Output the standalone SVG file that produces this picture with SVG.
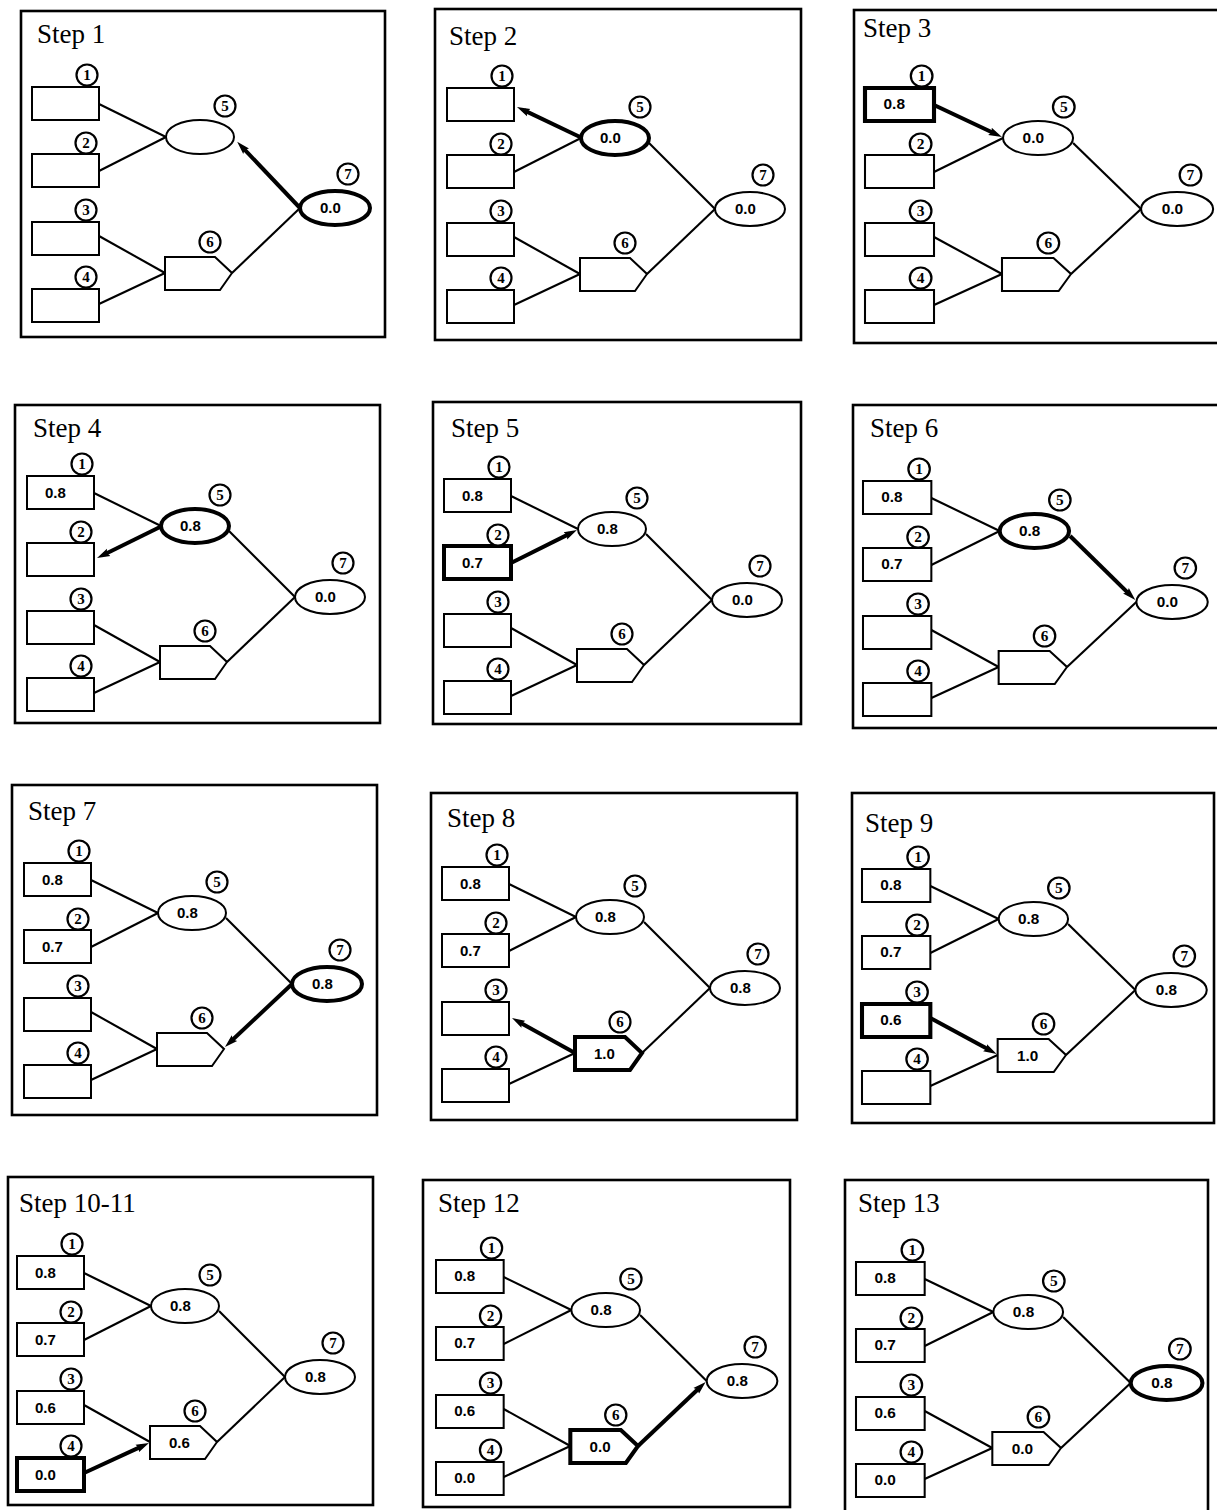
<svg xmlns="http://www.w3.org/2000/svg" width="1217" height="1510" viewBox="0 0 1217 1510">
<style>
.fr{fill:none;stroke:#000;stroke-width:2.6}
.ttl{font-family:"Liberation Serif",serif;font-size:27px}
.nd{fill:#fff;stroke:#000;stroke-width:2}
.hl{stroke-width:4}
.cl{fill:#fff;stroke:#000;stroke-width:2.2}
.cn{font-family:"Liberation Serif",serif;font-size:15px;font-weight:bold;text-anchor:middle}
.v{font-family:"Liberation Sans",sans-serif;font-size:15px;font-weight:bold}
.ed{stroke:#000;stroke-width:2.1;fill:none}
.ar{stroke:#000;stroke-width:4;fill:none;marker-end:url(#ah)}
</style>
<defs>
<marker id="ah" markerUnits="userSpaceOnUse" markerWidth="14" markerHeight="10" viewBox="0 0 14 10" refX="5" refY="5" orient="auto">
<path d="M0,1 L13,5 L0,9 L2,5 z" fill="#000"/>
</marker>
</defs>
<rect width="1217" height="1510" fill="#fff"/>

<g id="frames">
<rect class="fr" x="21" y="11" width="364" height="326"/>
<rect class="fr" x="435" y="9" width="366" height="331"/>
<rect class="fr" x="854" y="10" width="380" height="333"/>
<rect class="fr" x="15" y="405" width="365" height="318"/>
<rect class="fr" x="433" y="402" width="368" height="322"/>
<rect class="fr" x="853" y="405" width="380" height="323"/>
<rect class="fr" x="12" y="785" width="365" height="330"/>
<rect class="fr" x="431" y="793" width="366" height="327"/>
<rect class="fr" x="852" y="793" width="362" height="330"/>
<rect class="fr" x="8" y="1177" width="365" height="328"/>
<rect class="fr" x="423" y="1180" width="367" height="327"/>
<rect class="fr" x="845" y="1180" width="363" height="340"/>
</g>
<g id="titles">
<text class="ttl" x="37" y="43">Step 1</text>
<text class="ttl" x="449" y="45">Step 2</text>
<text class="ttl" x="863" y="37">Step 3</text>
<text class="ttl" x="33" y="437">Step 4</text>
<text class="ttl" x="451" y="437">Step 5</text>
<text class="ttl" x="870" y="437">Step 6</text>
<text class="ttl" x="28" y="820">Step 7</text>
<text class="ttl" x="447" y="827">Step 8</text>
<text class="ttl" x="865" y="832">Step 9</text>
<text class="ttl" x="19" y="1212">Step 10-11</text>
<text class="ttl" x="438" y="1212">Step 12</text>
<text class="ttl" x="858" y="1212">Step 13</text>
</g>

<g id="step1" transform="translate(32,87)">
<g id="s1-connectors">
<line class="ed" x1="67" y1="17" x2="134" y2="50"/>
<line class="ed" x1="67" y1="84" x2="134" y2="50"/>
<line class="ed" x1="67" y1="149" x2="133" y2="186"/>
<line class="ed" x1="67" y1="217" x2="133" y2="186"/>
<line class="ed" x1="200" y1="186" x2="268" y2="121"/>
<line class="ar" x1="268" y1="121" x2="210.7" y2="60.6"/>
</g>
<g id="s1-n1"><rect class="nd" x="0" y="0" width="67" height="33"/><circle class="cl" cx="55" cy="-12" r="10.5"/><text class="cn" x="55" y="-7">1</text></g>
<g id="s1-n2"><rect class="nd" x="0" y="67" width="67" height="33"/><circle class="cl" cx="54" cy="56" r="10.5"/><text class="cn" x="54" y="61">2</text></g>
<g id="s1-n3"><rect class="nd" x="0" y="135" width="67" height="33"/><circle class="cl" cx="54" cy="123" r="10.5"/><text class="cn" x="54" y="128">3</text></g>
<g id="s1-n4"><rect class="nd" x="0" y="202" width="67" height="33"/><circle class="cl" cx="54" cy="190" r="10.5"/><text class="cn" x="54" y="195">4</text></g>
<g id="s1-n5"><ellipse class="nd" cx="168" cy="50" rx="34" ry="17"/><circle class="cl" cx="193" cy="19" r="10.5"/><text class="cn" x="193" y="24">5</text></g>
<g id="s1-n6"><polygon class="nd" points="133,170 183,170 200,186 188,203 133,203"/><circle class="cl" cx="178" cy="155" r="10.5"/><text class="cn" x="178" y="160">6</text></g>
<g id="s1-n7"><ellipse class="nd hl" cx="303" cy="121" rx="35" ry="17"/><circle class="cl" cx="316" cy="87" r="10.5"/><text class="cn" x="316" y="92">7</text><text class="v" x="288" y="126">0.0</text></g>
</g>

<g id="step2" transform="translate(447,88)">
<g id="s2-connectors">
<line class="ed" x1="67" y1="84" x2="134" y2="50"/>
<line class="ed" x1="67" y1="149" x2="133" y2="186"/>
<line class="ed" x1="67" y1="217" x2="133" y2="186"/>
<line class="ed" x1="202" y1="55" x2="268" y2="121"/>
<line class="ed" x1="200" y1="186" x2="268" y2="121"/>
<line class="ar" x1="133" y1="49" x2="77.2" y2="22.4"/>
</g>
<g id="s2-n1"><rect class="nd" x="0" y="0" width="67" height="33"/><circle class="cl" cx="55" cy="-12" r="10.5"/><text class="cn" x="55" y="-7">1</text></g>
<g id="s2-n2"><rect class="nd" x="0" y="67" width="67" height="33"/><circle class="cl" cx="54" cy="56" r="10.5"/><text class="cn" x="54" y="61">2</text></g>
<g id="s2-n3"><rect class="nd" x="0" y="135" width="67" height="33"/><circle class="cl" cx="54" cy="123" r="10.5"/><text class="cn" x="54" y="128">3</text></g>
<g id="s2-n4"><rect class="nd" x="0" y="202" width="67" height="33"/><circle class="cl" cx="54" cy="190" r="10.5"/><text class="cn" x="54" y="195">4</text></g>
<g id="s2-n5"><ellipse class="nd hl" cx="168" cy="50" rx="34" ry="17"/><circle class="cl" cx="193" cy="19" r="10.5"/><text class="cn" x="193" y="24">5</text><text class="v" x="153" y="55">0.0</text></g>
<g id="s2-n6"><polygon class="nd" points="133,170 183,170 200,186 188,203 133,203"/><circle class="cl" cx="178" cy="155" r="10.5"/><text class="cn" x="178" y="160">6</text></g>
<g id="s2-n7"><ellipse class="nd" cx="303" cy="121" rx="35" ry="17"/><circle class="cl" cx="316" cy="87" r="10.5"/><text class="cn" x="316" y="92">7</text><text class="v" x="288" y="126">0.0</text></g>
</g>

<g id="step3" transform="translate(865,88) scale(1.03,1)">
<g id="s3-connectors">
<line class="ed" x1="67" y1="84" x2="134" y2="50"/>
<line class="ed" x1="67" y1="149" x2="133" y2="186"/>
<line class="ed" x1="67" y1="217" x2="133" y2="186"/>
<line class="ed" x1="202" y1="55" x2="268" y2="121"/>
<line class="ed" x1="200" y1="186" x2="268" y2="121"/>
<line class="ar" x1="67" y1="17" x2="125.8" y2="45.5"/>
</g>
<g id="s3-n1"><rect class="nd hl" x="0" y="0" width="67" height="33"/><circle class="cl" cx="55" cy="-12" r="10.5"/><text class="cn" x="55" y="-7">1</text><text class="v" x="18" y="21.5">0.8</text></g>
<g id="s3-n2"><rect class="nd" x="0" y="67" width="67" height="33"/><circle class="cl" cx="54" cy="56" r="10.5"/><text class="cn" x="54" y="61">2</text></g>
<g id="s3-n3"><rect class="nd" x="0" y="135" width="67" height="33"/><circle class="cl" cx="54" cy="123" r="10.5"/><text class="cn" x="54" y="128">3</text></g>
<g id="s3-n4"><rect class="nd" x="0" y="202" width="67" height="33"/><circle class="cl" cx="54" cy="190" r="10.5"/><text class="cn" x="54" y="195">4</text></g>
<g id="s3-n5"><ellipse class="nd" cx="168" cy="50" rx="34" ry="17"/><circle class="cl" cx="193" cy="19" r="10.5"/><text class="cn" x="193" y="24">5</text><text class="v" x="153" y="55">0.0</text></g>
<g id="s3-n6"><polygon class="nd" points="133,170 183,170 200,186 188,203 133,203"/><circle class="cl" cx="178" cy="155" r="10.5"/><text class="cn" x="178" y="160">6</text></g>
<g id="s3-n7"><ellipse class="nd" cx="303" cy="121" rx="35" ry="17"/><circle class="cl" cx="316" cy="87" r="10.5"/><text class="cn" x="316" y="92">7</text><text class="v" x="288" y="126">0.0</text></g>
</g>

<g id="step4" transform="translate(27,476)">
<g id="s4-connectors">
<line class="ed" x1="67" y1="17" x2="134" y2="50"/>
<line class="ed" x1="67" y1="149" x2="133" y2="186"/>
<line class="ed" x1="67" y1="217" x2="133" y2="186"/>
<line class="ed" x1="202" y1="55" x2="268" y2="121"/>
<line class="ed" x1="200" y1="186" x2="268" y2="121"/>
<line class="ar" x1="133" y1="51" x2="77.2" y2="78.5"/>
</g>
<g id="s4-n1"><rect class="nd" x="0" y="0" width="67" height="33"/><circle class="cl" cx="55" cy="-12" r="10.5"/><text class="cn" x="55" y="-7">1</text><text class="v" x="18" y="21.5">0.8</text></g>
<g id="s4-n2"><rect class="nd" x="0" y="67" width="67" height="33"/><circle class="cl" cx="54" cy="56" r="10.5"/><text class="cn" x="54" y="61">2</text></g>
<g id="s4-n3"><rect class="nd" x="0" y="135" width="67" height="33"/><circle class="cl" cx="54" cy="123" r="10.5"/><text class="cn" x="54" y="128">3</text></g>
<g id="s4-n4"><rect class="nd" x="0" y="202" width="67" height="33"/><circle class="cl" cx="54" cy="190" r="10.5"/><text class="cn" x="54" y="195">4</text></g>
<g id="s4-n5"><ellipse class="nd hl" cx="168" cy="50" rx="34" ry="17"/><circle class="cl" cx="193" cy="19" r="10.5"/><text class="cn" x="193" y="24">5</text><text class="v" x="153" y="55">0.8</text></g>
<g id="s4-n6"><polygon class="nd" points="133,170 183,170 200,186 188,203 133,203"/><circle class="cl" cx="178" cy="155" r="10.5"/><text class="cn" x="178" y="160">6</text></g>
<g id="s4-n7"><ellipse class="nd" cx="303" cy="121" rx="35" ry="17"/><circle class="cl" cx="316" cy="87" r="10.5"/><text class="cn" x="316" y="92">7</text><text class="v" x="288" y="126">0.0</text></g>
</g>

<g id="step5" transform="translate(444,479)">
<g id="s5-connectors">
<line class="ed" x1="67" y1="17" x2="134" y2="50"/>
<line class="ed" x1="67" y1="149" x2="133" y2="186"/>
<line class="ed" x1="67" y1="217" x2="133" y2="186"/>
<line class="ed" x1="202" y1="55" x2="268" y2="121"/>
<line class="ed" x1="200" y1="186" x2="268" y2="121"/>
<line class="ar" x1="67" y1="84" x2="125.8" y2="54.6"/>
</g>
<g id="s5-n1"><rect class="nd" x="0" y="0" width="67" height="33"/><circle class="cl" cx="55" cy="-12" r="10.5"/><text class="cn" x="55" y="-7">1</text><text class="v" x="18" y="21.5">0.8</text></g>
<g id="s5-n2"><rect class="nd hl" x="0" y="67" width="67" height="33"/><circle class="cl" cx="54" cy="56" r="10.5"/><text class="cn" x="54" y="61">2</text><text class="v" x="18" y="88.5">0.7</text></g>
<g id="s5-n3"><rect class="nd" x="0" y="135" width="67" height="33"/><circle class="cl" cx="54" cy="123" r="10.5"/><text class="cn" x="54" y="128">3</text></g>
<g id="s5-n4"><rect class="nd" x="0" y="202" width="67" height="33"/><circle class="cl" cx="54" cy="190" r="10.5"/><text class="cn" x="54" y="195">4</text></g>
<g id="s5-n5"><ellipse class="nd" cx="168" cy="50" rx="34" ry="17"/><circle class="cl" cx="193" cy="19" r="10.5"/><text class="cn" x="193" y="24">5</text><text class="v" x="153" y="55">0.8</text></g>
<g id="s5-n6"><polygon class="nd" points="133,170 183,170 200,186 188,203 133,203"/><circle class="cl" cx="178" cy="155" r="10.5"/><text class="cn" x="178" y="160">6</text></g>
<g id="s5-n7"><ellipse class="nd" cx="303" cy="121" rx="35" ry="17"/><circle class="cl" cx="316" cy="87" r="10.5"/><text class="cn" x="316" y="92">7</text><text class="v" x="288" y="126">0.0</text></g>
</g>

<g id="step6" transform="translate(863,481) scale(1.02,1)">
<g id="s6-connectors">
<line class="ed" x1="67" y1="17" x2="134" y2="50"/>
<line class="ed" x1="67" y1="84" x2="134" y2="50"/>
<line class="ed" x1="67" y1="149" x2="133" y2="186"/>
<line class="ed" x1="67" y1="217" x2="133" y2="186"/>
<line class="ed" x1="200" y1="186" x2="268" y2="121"/>
<line class="ar" x1="203" y1="55" x2="261.3" y2="113.3"/>
</g>
<g id="s6-n1"><rect class="nd" x="0" y="0" width="67" height="33"/><circle class="cl" cx="55" cy="-12" r="10.5"/><text class="cn" x="55" y="-7">1</text><text class="v" x="18" y="21.5">0.8</text></g>
<g id="s6-n2"><rect class="nd" x="0" y="67" width="67" height="33"/><circle class="cl" cx="54" cy="56" r="10.5"/><text class="cn" x="54" y="61">2</text><text class="v" x="18" y="88.5">0.7</text></g>
<g id="s6-n3"><rect class="nd" x="0" y="135" width="67" height="33"/><circle class="cl" cx="54" cy="123" r="10.5"/><text class="cn" x="54" y="128">3</text></g>
<g id="s6-n4"><rect class="nd" x="0" y="202" width="67" height="33"/><circle class="cl" cx="54" cy="190" r="10.5"/><text class="cn" x="54" y="195">4</text></g>
<g id="s6-n5"><ellipse class="nd hl" cx="168" cy="50" rx="34" ry="17"/><circle class="cl" cx="193" cy="19" r="10.5"/><text class="cn" x="193" y="24">5</text><text class="v" x="153" y="55">0.8</text></g>
<g id="s6-n6"><polygon class="nd" points="133,170 183,170 200,186 188,203 133,203"/><circle class="cl" cx="178" cy="155" r="10.5"/><text class="cn" x="178" y="160">6</text></g>
<g id="s6-n7"><ellipse class="nd" cx="303" cy="121" rx="35" ry="17"/><circle class="cl" cx="316" cy="87" r="10.5"/><text class="cn" x="316" y="92">7</text><text class="v" x="288" y="126">0.0</text></g>
</g>

<g id="step7" transform="translate(24,863)">
<g id="s7-connectors">
<line class="ed" x1="67" y1="17" x2="134" y2="50"/>
<line class="ed" x1="67" y1="84" x2="134" y2="50"/>
<line class="ed" x1="67" y1="149" x2="133" y2="186"/>
<line class="ed" x1="67" y1="217" x2="133" y2="186"/>
<line class="ed" x1="202" y1="55" x2="268" y2="121"/>
<line class="ar" x1="268" y1="121" x2="206.8" y2="178.5"/>
</g>
<g id="s7-n1"><rect class="nd" x="0" y="0" width="67" height="33"/><circle class="cl" cx="55" cy="-12" r="10.5"/><text class="cn" x="55" y="-7">1</text><text class="v" x="18" y="21.5">0.8</text></g>
<g id="s7-n2"><rect class="nd" x="0" y="67" width="67" height="33"/><circle class="cl" cx="54" cy="56" r="10.5"/><text class="cn" x="54" y="61">2</text><text class="v" x="18" y="88.5">0.7</text></g>
<g id="s7-n3"><rect class="nd" x="0" y="135" width="67" height="33"/><circle class="cl" cx="54" cy="123" r="10.5"/><text class="cn" x="54" y="128">3</text></g>
<g id="s7-n4"><rect class="nd" x="0" y="202" width="67" height="33"/><circle class="cl" cx="54" cy="190" r="10.5"/><text class="cn" x="54" y="195">4</text></g>
<g id="s7-n5"><ellipse class="nd" cx="168" cy="50" rx="34" ry="17"/><circle class="cl" cx="193" cy="19" r="10.5"/><text class="cn" x="193" y="24">5</text><text class="v" x="153" y="55">0.8</text></g>
<g id="s7-n6"><polygon class="nd" points="133,170 183,170 200,186 188,203 133,203"/><circle class="cl" cx="178" cy="155" r="10.5"/><text class="cn" x="178" y="160">6</text></g>
<g id="s7-n7"><ellipse class="nd hl" cx="303" cy="121" rx="35" ry="17"/><circle class="cl" cx="316" cy="87" r="10.5"/><text class="cn" x="316" y="92">7</text><text class="v" x="288" y="126">0.8</text></g>
</g>

<g id="step8" transform="translate(442,867)">
<g id="s8-connectors">
<line class="ed" x1="67" y1="17" x2="134" y2="50"/>
<line class="ed" x1="67" y1="84" x2="134" y2="50"/>
<line class="ed" x1="67" y1="217" x2="133" y2="186"/>
<line class="ed" x1="202" y1="55" x2="268" y2="121"/>
<line class="ed" x1="200" y1="186" x2="268" y2="121"/>
<line class="ar" x1="133" y1="186" x2="77" y2="154.9"/>
</g>
<g id="s8-n1"><rect class="nd" x="0" y="0" width="67" height="33"/><circle class="cl" cx="55" cy="-12" r="10.5"/><text class="cn" x="55" y="-7">1</text><text class="v" x="18" y="21.5">0.8</text></g>
<g id="s8-n2"><rect class="nd" x="0" y="67" width="67" height="33"/><circle class="cl" cx="54" cy="56" r="10.5"/><text class="cn" x="54" y="61">2</text><text class="v" x="18" y="88.5">0.7</text></g>
<g id="s8-n3"><rect class="nd" x="0" y="135" width="67" height="33"/><circle class="cl" cx="54" cy="123" r="10.5"/><text class="cn" x="54" y="128">3</text></g>
<g id="s8-n4"><rect class="nd" x="0" y="202" width="67" height="33"/><circle class="cl" cx="54" cy="190" r="10.5"/><text class="cn" x="54" y="195">4</text></g>
<g id="s8-n5"><ellipse class="nd" cx="168" cy="50" rx="34" ry="17"/><circle class="cl" cx="193" cy="19" r="10.5"/><text class="cn" x="193" y="24">5</text><text class="v" x="153" y="55">0.8</text></g>
<g id="s8-n6"><polygon class="nd hl" points="133,170 183,170 200,186 188,203 133,203"/><circle class="cl" cx="178" cy="155" r="10.5"/><text class="cn" x="178" y="160">6</text><text class="v" x="152" y="192">1.0</text></g>
<g id="s8-n7"><ellipse class="nd" cx="303" cy="121" rx="35" ry="17"/><circle class="cl" cx="316" cy="87" r="10.5"/><text class="cn" x="316" y="92">7</text><text class="v" x="288" y="126">0.8</text></g>
</g>

<g id="step9" transform="translate(862,869) scale(1.02,1)">
<g id="s9-connectors">
<line class="ed" x1="67" y1="17" x2="134" y2="50"/>
<line class="ed" x1="67" y1="84" x2="134" y2="50"/>
<line class="ed" x1="67" y1="217" x2="133" y2="186"/>
<line class="ed" x1="202" y1="55" x2="268" y2="121"/>
<line class="ed" x1="200" y1="186" x2="268" y2="121"/>
<line class="ar" x1="67" y1="149" x2="125" y2="181.1"/>
</g>
<g id="s9-n1"><rect class="nd" x="0" y="0" width="67" height="33"/><circle class="cl" cx="55" cy="-12" r="10.5"/><text class="cn" x="55" y="-7">1</text><text class="v" x="18" y="21.5">0.8</text></g>
<g id="s9-n2"><rect class="nd" x="0" y="67" width="67" height="33"/><circle class="cl" cx="54" cy="56" r="10.5"/><text class="cn" x="54" y="61">2</text><text class="v" x="18" y="88.5">0.7</text></g>
<g id="s9-n3"><rect class="nd hl" x="0" y="135" width="67" height="33"/><circle class="cl" cx="54" cy="123" r="10.5"/><text class="cn" x="54" y="128">3</text><text class="v" x="18" y="156.5">0.6</text></g>
<g id="s9-n4"><rect class="nd" x="0" y="202" width="67" height="33"/><circle class="cl" cx="54" cy="190" r="10.5"/><text class="cn" x="54" y="195">4</text></g>
<g id="s9-n5"><ellipse class="nd" cx="168" cy="50" rx="34" ry="17"/><circle class="cl" cx="193" cy="19" r="10.5"/><text class="cn" x="193" y="24">5</text><text class="v" x="153" y="55">0.8</text></g>
<g id="s9-n6"><polygon class="nd" points="133,170 183,170 200,186 188,203 133,203"/><circle class="cl" cx="178" cy="155" r="10.5"/><text class="cn" x="178" y="160">6</text><text class="v" x="152" y="192">1.0</text></g>
<g id="s9-n7"><ellipse class="nd" cx="303" cy="121" rx="35" ry="17"/><circle class="cl" cx="316" cy="87" r="10.5"/><text class="cn" x="316" y="92">7</text><text class="v" x="288" y="126">0.8</text></g>
</g>

<g id="step10" transform="translate(17,1256)">
<g id="s10-connectors">
<line class="ed" x1="67" y1="17" x2="134" y2="50"/>
<line class="ed" x1="67" y1="84" x2="134" y2="50"/>
<line class="ed" x1="67" y1="149" x2="133" y2="186"/>
<line class="ed" x1="202" y1="55" x2="268" y2="121"/>
<line class="ed" x1="200" y1="186" x2="268" y2="121"/>
<line class="ar" x1="67" y1="217" x2="124.7" y2="190.4"/>
</g>
<g id="s10-n1"><rect class="nd" x="0" y="0" width="67" height="33"/><circle class="cl" cx="55" cy="-12" r="10.5"/><text class="cn" x="55" y="-7">1</text><text class="v" x="18" y="21.5">0.8</text></g>
<g id="s10-n2"><rect class="nd" x="0" y="67" width="67" height="33"/><circle class="cl" cx="54" cy="56" r="10.5"/><text class="cn" x="54" y="61">2</text><text class="v" x="18" y="88.5">0.7</text></g>
<g id="s10-n3"><rect class="nd" x="0" y="135" width="67" height="33"/><circle class="cl" cx="54" cy="123" r="10.5"/><text class="cn" x="54" y="128">3</text><text class="v" x="18" y="156.5">0.6</text></g>
<g id="s10-n4"><rect class="nd hl" x="0" y="202" width="67" height="33"/><circle class="cl" cx="54" cy="190" r="10.5"/><text class="cn" x="54" y="195">4</text><text class="v" x="18" y="223.5">0.0</text></g>
<g id="s10-n5"><ellipse class="nd" cx="168" cy="50" rx="34" ry="17"/><circle class="cl" cx="193" cy="19" r="10.5"/><text class="cn" x="193" y="24">5</text><text class="v" x="153" y="55">0.8</text></g>
<g id="s10-n6"><polygon class="nd" points="133,170 183,170 200,186 188,203 133,203"/><circle class="cl" cx="178" cy="155" r="10.5"/><text class="cn" x="178" y="160">6</text><text class="v" x="152" y="192">0.6</text></g>
<g id="s10-n7"><ellipse class="nd" cx="303" cy="121" rx="35" ry="17"/><circle class="cl" cx="316" cy="87" r="10.5"/><text class="cn" x="316" y="92">7</text><text class="v" x="288" y="126">0.8</text></g>
</g>

<g id="step12" transform="translate(436,1260) scale(1.01,1)">
<g id="s12-connectors">
<line class="ed" x1="67" y1="17" x2="134" y2="50"/>
<line class="ed" x1="67" y1="84" x2="134" y2="50"/>
<line class="ed" x1="67" y1="149" x2="133" y2="186"/>
<line class="ed" x1="67" y1="217" x2="133" y2="186"/>
<line class="ed" x1="202" y1="55" x2="268" y2="121"/>
<line class="ar" x1="200" y1="186" x2="261.2" y2="127.5"/>
</g>
<g id="s12-n1"><rect class="nd" x="0" y="0" width="67" height="33"/><circle class="cl" cx="55" cy="-12" r="10.5"/><text class="cn" x="55" y="-7">1</text><text class="v" x="18" y="21.5">0.8</text></g>
<g id="s12-n2"><rect class="nd" x="0" y="67" width="67" height="33"/><circle class="cl" cx="54" cy="56" r="10.5"/><text class="cn" x="54" y="61">2</text><text class="v" x="18" y="88.5">0.7</text></g>
<g id="s12-n3"><rect class="nd" x="0" y="135" width="67" height="33"/><circle class="cl" cx="54" cy="123" r="10.5"/><text class="cn" x="54" y="128">3</text><text class="v" x="18" y="156.5">0.6</text></g>
<g id="s12-n4"><rect class="nd" x="0" y="202" width="67" height="33"/><circle class="cl" cx="54" cy="190" r="10.5"/><text class="cn" x="54" y="195">4</text><text class="v" x="18" y="223.5">0.0</text></g>
<g id="s12-n5"><ellipse class="nd" cx="168" cy="50" rx="34" ry="17"/><circle class="cl" cx="193" cy="19" r="10.5"/><text class="cn" x="193" y="24">5</text><text class="v" x="153" y="55">0.8</text></g>
<g id="s12-n6"><polygon class="nd hl" points="133,170 183,170 200,186 188,203 133,203"/><circle class="cl" cx="178" cy="155" r="10.5"/><text class="cn" x="178" y="160">6</text><text class="v" x="152" y="192">0.0</text></g>
<g id="s12-n7"><ellipse class="nd" cx="303" cy="121" rx="35" ry="17"/><circle class="cl" cx="316" cy="87" r="10.5"/><text class="cn" x="316" y="92">7</text><text class="v" x="288" y="126">0.8</text></g>
</g>

<g id="step13" transform="translate(856,1262) scale(1.025,1)">
<g id="s13-connectors">
<line class="ed" x1="67" y1="17" x2="134" y2="50"/>
<line class="ed" x1="67" y1="84" x2="134" y2="50"/>
<line class="ed" x1="67" y1="149" x2="133" y2="186"/>
<line class="ed" x1="67" y1="217" x2="133" y2="186"/>
<line class="ed" x1="202" y1="55" x2="268" y2="121"/>
<line class="ed" x1="200" y1="186" x2="268" y2="121"/>
</g>
<g id="s13-n1"><rect class="nd" x="0" y="0" width="67" height="33"/><circle class="cl" cx="55" cy="-12" r="10.5"/><text class="cn" x="55" y="-7">1</text><text class="v" x="18" y="21.5">0.8</text></g>
<g id="s13-n2"><rect class="nd" x="0" y="67" width="67" height="33"/><circle class="cl" cx="54" cy="56" r="10.5"/><text class="cn" x="54" y="61">2</text><text class="v" x="18" y="88.5">0.7</text></g>
<g id="s13-n3"><rect class="nd" x="0" y="135" width="67" height="33"/><circle class="cl" cx="54" cy="123" r="10.5"/><text class="cn" x="54" y="128">3</text><text class="v" x="18" y="156.5">0.6</text></g>
<g id="s13-n4"><rect class="nd" x="0" y="202" width="67" height="33"/><circle class="cl" cx="54" cy="190" r="10.5"/><text class="cn" x="54" y="195">4</text><text class="v" x="18" y="223.5">0.0</text></g>
<g id="s13-n5"><ellipse class="nd" cx="168" cy="50" rx="34" ry="17"/><circle class="cl" cx="193" cy="19" r="10.5"/><text class="cn" x="193" y="24">5</text><text class="v" x="153" y="55">0.8</text></g>
<g id="s13-n6"><polygon class="nd" points="133,170 183,170 200,186 188,203 133,203"/><circle class="cl" cx="178" cy="155" r="10.5"/><text class="cn" x="178" y="160">6</text><text class="v" x="152" y="192">0.0</text></g>
<g id="s13-n7"><ellipse class="nd hl" cx="303" cy="121" rx="35" ry="17"/><circle class="cl" cx="316" cy="87" r="10.5"/><text class="cn" x="316" y="92">7</text><text class="v" x="288" y="126">0.8</text></g>
</g>
</svg>
